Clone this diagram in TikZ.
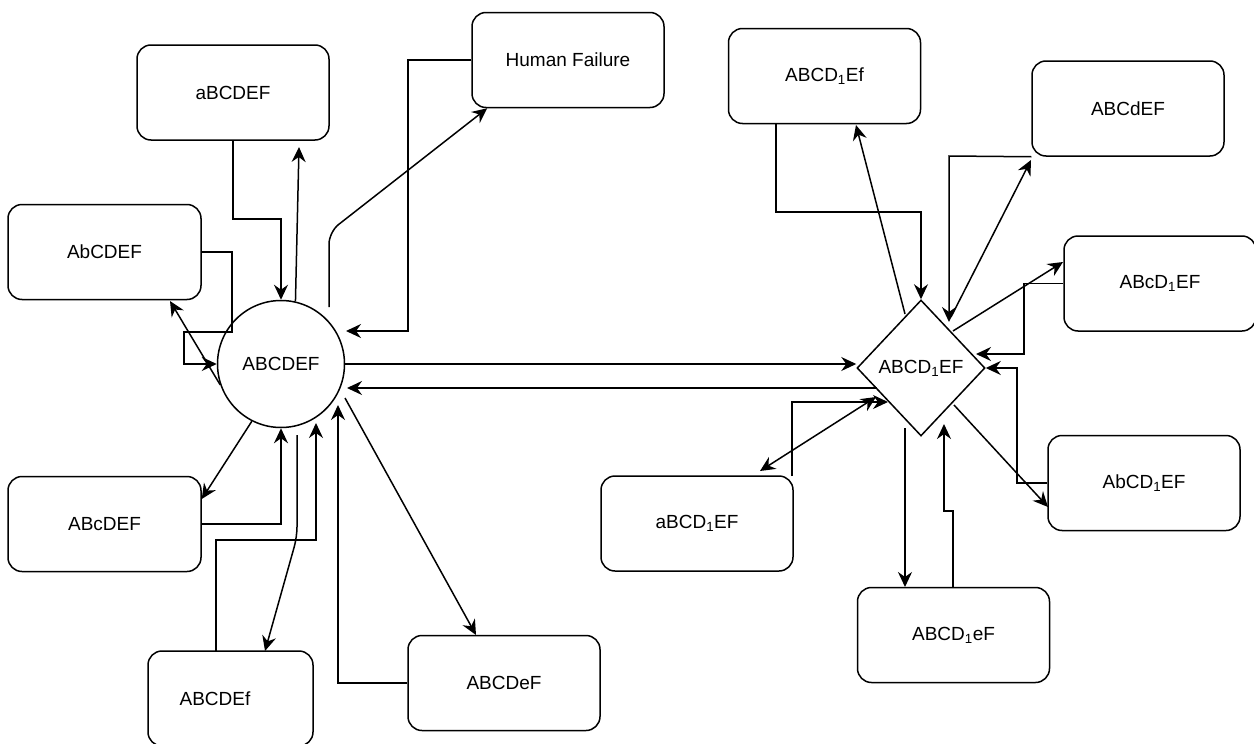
\documentclass[tikz,border=0pt]{standalone}
\usepackage{fontspec}
\setmainfont{Liberation Sans}
\usetikzlibrary{arrows.meta,shapes.geometric,calc}
\tikzset{
  box/.style={draw, rounded corners=14pt, minimum width=192pt, minimum height=95pt, inner sep=0pt, line width=1.5pt},
  lbl/.style={font=\fontsize{19}{22}\selectfont},
  arr/.style={line width=1.5pt, -{Stealth[length=15pt,width=14pt,inset=5pt]}},
  darr/.style={line width=1.5pt, {Stealth[length=15pt,width=14pt,inset=5pt]}-{Stealth[length=15pt,width=14pt,inset=5pt]}},
  ln/.style={line width=1.5pt}
}
\newcommand{\sub}[1]{\textsubscript{#1}}
\begin{document}
\begin{tikzpicture}[x=1pt,y=-1pt]
\useasboundingbox (0,0) rectangle (1254,744);
% left cluster
\node[draw, circle, minimum size=127pt, inner sep=0pt, line width=1.5pt, lbl] (c) at (281,364) {ABCDEF};
\node[box, lbl] (n1) at (233,92.5) {aBCDEF};
\node[box, lbl] (hf) at (568,60) {Human Failure};
\node[box, lbl, minimum width=193pt] (n2) at (104.5,252) {AbCDEF};
\node[box, lbl, minimum width=193pt] (n3) at (104.5,524) {ABcDEF};
\node[box, minimum width=165pt] (n4) at (230.5,698.5) {};
\node[lbl] (n4t) at (215,699) {ABCDEf};
\node[box, lbl] (n5) at (504,683) {ABCDeF};
% right cluster
\node[draw, diamond, minimum width=128pt, minimum height=136pt, inner sep=0pt, line width=1.5pt, lbl] (d) at (921,368) {ABCD\sub{1}EF};
\node[box, lbl] (m1) at (824.5,76) {ABCD\sub{1}Ef};
\node[box, lbl] (m2) at (1128,108.5) {ABCdEF};
\node[box, lbl] (m3) at (1160,283.5) {ABcD\sub{1}EF};
\node[box, lbl] (m4) at (1144,483) {AbCD\sub{1}EF};
\node[box, lbl] (m5) at (953.5,635) {ABCD\sub{1}eF};
\node[box, lbl] (m6) at (697,523.5) {aBCD\sub{1}EF};

% left connectors
\draw[arr] (n1.south) -- (233,219) -| (c.north);
\draw[arr] (c.77) -- (299,147);
\draw[arr, rounded corners=12pt] (329,307) -- (329,232) -- ([xshift=16pt]hf.south west);
\draw[arr] (hf.west) -- (408,60) -- (408,331) -- (346,331);
\draw[arr] (c.east) -- (c.east -| d.west);
\draw[arr] (877,388) -- (347,388);
\draw[arr] (n2.east) -- (232,252) -- (232,332) -- (184,332) -- (184,364) -- (c.west);
\draw[arr] (c.199) -- (170,301);
\draw[arr] (c.243) -- ([yshift=25pt]n3.east);
\draw[arr] (n3.east) -| (c.south);
\draw[arr] (216,651) -- (216,540) -- (316,540) -- (316,423);
\draw[arr, rounded corners=10pt] (297,435) -- (297,537) -- (265,651);
\draw[arr] (n5.west) -- (338,683) -- (338,405);
\draw[arr] (345,398) -- (476,635);

% right connectors
\draw[arr] (776,124) -- (776,212) -| (d.north);
\draw[arr] (905,314) -- (856,125);
\draw[arr] (m2.south west) -- (949,156) -- (949,322);
\draw[arr] (951,317) -- (1031,160);
\draw[arr] (953,331) -- (1063,262);
\draw[arr] (m3.west) -- (1024,283.5) -- (1024,354) -- (976,354);
\draw[arr] (m4.west) -- (1017,483) -- (1017,368) -- (d.east);
\draw[arr] (954,405) -- (1048,507);
\draw[arr] (905,428) -- (905,587);
\draw[arr] (953,587) -- (953,511) -- (944,511) -- (944,424);
\draw[arr] (792,476) -- (792,402) -- (888,402);
\draw[darr] (876,397) -- (760,471);
\end{tikzpicture}
\end{document}
